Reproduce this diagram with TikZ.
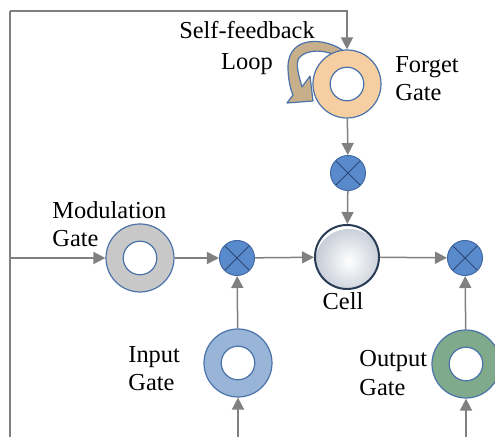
\documentclass[tikz,border=0pt]{standalone}
\usepackage{fontspec}
\setmainfont{Liberation Serif}
\newfontfamily\lblfont{Liberation Serif}
\usetikzlibrary{arrows.meta}
\definecolor{linec}{RGB}{128,128,128}
\definecolor{ringc}{RGB}{75,115,170}
\definecolor{forgetc}{RGB}{245,207,162}
\definecolor{tanc}{RGB}{200,175,140}
\definecolor{modc}{RGB}{200,200,200}
\definecolor{inputc}{RGB}{152,180,214}
\definecolor{outputc}{RGB}{128,170,140}
\definecolor{multc}{RGB}{88,138,204}
\definecolor{multo}{RGB}{65,105,165}
\definecolor{crossc}{RGB}{45,70,115}
\definecolor{cellc}{RGB}{40,60,85}
\definecolor{cellg}{RGB}{196,203,214}
\begin{document}
\begin{tikzpicture}[x=0.5pt,y=-0.5pt,
  conn/.style={draw=linec, line width=0.75pt},
  arr/.style={conn, -{Triangle[length=6pt,width=6pt]}},
  gate/.style={circle, draw=ringc, line width=0.6pt, minimum size=34pt, inner sep=0pt, fill=#1,
    path picture={\draw[ringc, line width=0.6pt, fill=white] (path picture bounding box.center) circle (8.4pt);}},
  mult/.style={circle, draw=multo, line width=0.5pt, minimum size=17.5pt, inner sep=0pt, fill=multc,
    path picture={\draw[crossc, line width=0.5pt] (path picture bounding box.north west) -- (path picture bounding box.south east)
      (path picture bounding box.north east) -- (path picture bounding box.south west);}},
  cellnode/.style={circle, minimum size=32pt, inner sep=0pt, draw=cellc, line width=1pt,
    path picture={\shade[inner color=white, outer color=cellg] ([xshift=1pt,yshift=-3pt]path picture bounding box.center) circle (17pt);}},
  lbl/.style={font=\lblfont\fontsize{12.2}{14.25}\selectfont, inner sep=0pt, align=left, anchor=north west},
]
\clip (0,0) rectangle (495,437);
\fill[white] (0,0) rectangle (495,437);

% self-feedback arrow (drawn under the forget gate)
\filldraw[fill=tanc, draw=ringc, line width=0.6pt, line join=round]
  (345,52) .. controls (326,37) and (289,35) .. (288,66)
  .. controls (288,78) and (290,88) .. (293,95)
  -- (287,103) -- (313,101) -- (310,76) -- (302,87)
  .. controls (299,76) and (295,64) .. (299,58)
  .. controls (306,49) and (325,49) .. (339,57) -- cycle;

\node[gate=forgetc] (fg) at (347,84) {};
\node[gate=modc] (mg) at (140,258) {};
\node[gate=inputc] (ig) at (238,363) {};
\node[gate=outputc] (og) at (466,364) {};
\node[mult] (m2) at (348,173) {};
\node[mult] (m1) at (237,258) {};
\node[mult] (m3) at (465,258) {};
\node[cellnode] (cell) at (347,257) {};

\coordinate (bl) at (10,440);
\coordinate (tl) at (10,11);
\coordinate (br) at (10,258);
\coordinate (ib) at (238,440);
\coordinate (ob) at (466,440);

\draw[conn] (bl) -- (tl);
\draw[arr] (tl) -| (fg);
\draw[arr] (br) -- (mg);
\draw[arr] (fg) -- (m2);
\draw[arr] (m2) -- (cell);
\draw[arr] (mg) -- (m1);
\draw[arr] (m1) -- (cell);
\draw[arr] (cell) -- (m3);
\draw[arr] (ig) -- (m1);
\draw[arr] (og) -- (m3);
\draw[arr] (ib) -- (ig);
\draw[arr] (ob) -- (og);

\node[lbl, align=center, anchor=north, font=\lblfont\fontsize{12.2}{15.5}\selectfont] (lsf) at (247,21) {Self-feedback\\Loop};
\node[lbl] (lfg) at (395,56) {Forget\\Gate};
\node[lbl] (lmg) at (52,201) {Modulation\\Gate};
\node[lbl] (lig) at (128,346) {Input\\Gate};
\node[lbl] (log) at (359,350) {Output\\Gate};
\node[lbl, anchor=north] (lcell) at (343,292) {Cell};
\end{tikzpicture}
\end{document}
